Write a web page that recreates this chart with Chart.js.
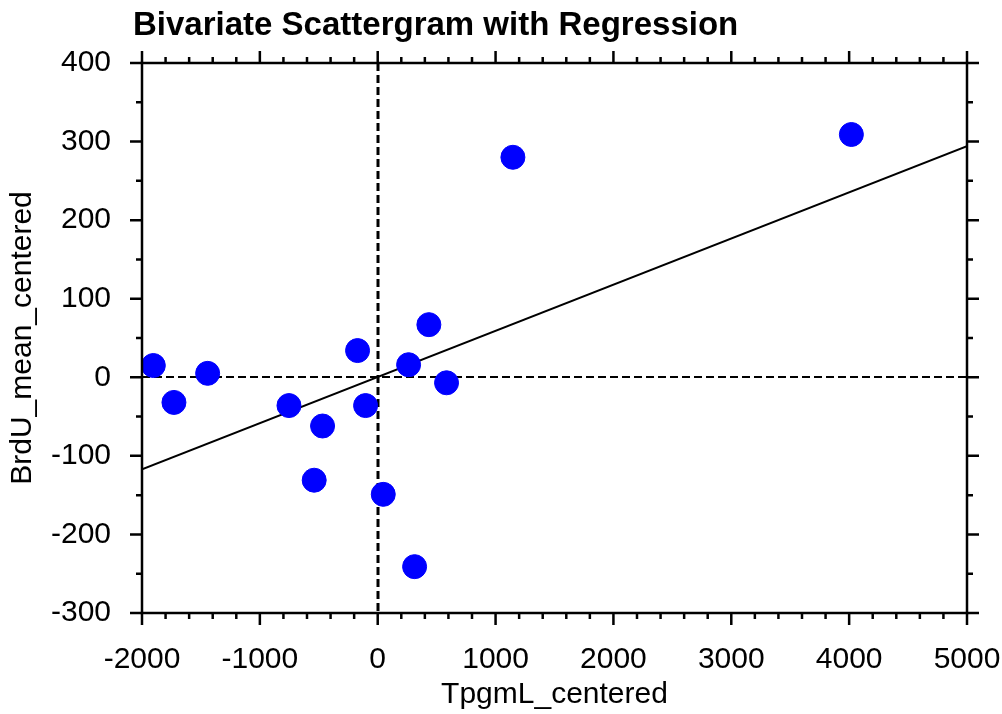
<!DOCTYPE html>
<html>
<head>
<meta charset="utf-8">
<title>Bivariate Scattergram with Regression</title>
<script src="https://cdn.jsdelivr.net/npm/chart.js@4"></script>
<style>
  html, body { margin: 0; padding: 0; background: #fff; overflow: hidden; }
  #scatter { display: block; }
</style>
</head>
<body>
<canvas id="scatter" width="1002" height="714"></canvas>
<script>
/* data */
const xValues = [-1904, -1729, -1443, -753, -539, -468, -171, -103, 47, 262, 313, 434, 584, 1147, 4019];
const yValues = [15, -32, 5, -36, -131, -62, 34, -36, -149, 16, -241, 67, -7, 280, 309];

// regression line, at the ends of the x axis
const fitX = [-2000, 5000];
const fitY = [-117, 294];

// axis ticks
const xTicks = [-2000, -1000, 0, 1000, 2000, 3000, 4000, 5000];
const yTicks = [-300, -200, -100, 0, 100, 200, 300, 400];

const FONT = "'Liberation Sans', Arial, sans-serif";

/* frame, outward tick marks and the dashed zero lines */
const frameTicks = {
  id: 'frameTicks',
  beforeDatasetsDraw(chart) {
    const { ctx, chartArea: a, scales: { x, y } } = chart;
    ctx.save();
    ctx.strokeStyle = '#000';
    ctx.setLineDash([8, 4]);
    // horizontal zero line
    ctx.lineWidth = 2;
    const y0 = Math.round(y.getPixelForValue(0));
    ctx.beginPath();
    ctx.moveTo(a.left, y0);
    ctx.lineTo(a.right, y0);
    ctx.stroke();
    // vertical zero line
    ctx.lineWidth = 3;
    const x0 = Math.round(x.getPixelForValue(0));
    ctx.beginPath();
    ctx.moveTo(x0, a.top);
    ctx.lineTo(x0, a.bottom);
    ctx.stroke();
    ctx.restore();
  },
  afterDatasetsDraw(chart) {
    const { ctx, chartArea: a, scales: { x, y } } = chart;
    ctx.save();
    ctx.strokeStyle = '#000';
    ctx.lineWidth = 2.5;
    ctx.strokeRect(a.left, a.top, a.right - a.left, a.bottom - a.top);

    ctx.beginPath();
    // x ticks: major every 1000, minor every 200
    for (let v = x.min; v <= x.max; v += 200) {
      const px = x.getPixelForValue(v);
      const len = v % 1000 === 0 ? 12 : 6;
      ctx.moveTo(px, a.bottom); ctx.lineTo(px, a.bottom + len);
      ctx.moveTo(px, a.top);    ctx.lineTo(px, a.top - len);
    }
    // y ticks: major every 100, minor every 50
    for (let v = y.min; v <= y.max; v += 50) {
      const py = y.getPixelForValue(v);
      const len = v % 100 === 0 ? 12 : 6;
      ctx.moveTo(a.left, py);  ctx.lineTo(a.left - len, py);
      ctx.moveTo(a.right, py); ctx.lineTo(a.right + len, py);
    }
    ctx.stroke();
    ctx.restore();
  },
  afterDraw(chart) {
    // title sits left-aligned, just left of the plot frame
    const { ctx, chartArea: a } = chart;
    ctx.save();
    ctx.fillStyle = '#000';
    ctx.font = 'bold 33px ' + FONT;
    ctx.textAlign = 'left';
    ctx.textBaseline = 'alphabetic';
    ctx.fillText('Bivariate Scattergram with Regression', a.left - 9, 35);
    ctx.restore();
  }
};

new Chart(document.getElementById('scatter'), {
  type: 'scatter',
  data: {
    datasets: [
      {
        label: 'BrdU_mean_centered',
        data: xValues.map((v, i) => ({ x: v, y: yValues[i] })),
        backgroundColor: '#0000ff',
        borderColor: '#0000ff',
        borderWidth: 1,
        pointRadius: 12,
        order: 0
      },
      {
        label: 'Regression',
        data: fitX.map((v, i) => ({ x: v, y: fitY[i] })),
        showLine: true,
        borderColor: '#000',
        borderWidth: 2,
        pointRadius: 0,
        fill: false,
        order: 1
      }
    ]
  },
  options: {
    responsive: false,
    animation: false,
    layout: { padding: { top: 63, right: 0, left: 0, bottom: 0 } },
    plugins: {
      legend: { display: false },
      tooltip: { enabled: false }
    },
    scales: {
      x: {
        type: 'linear',
        min: -2000,
        max: 5000,
        grid: { display: false },
        border: { display: false },
        afterBuildTicks: s => { s.ticks = xTicks.map(v => ({ value: v })); },
        afterFit: s => { s.height = 101; s.paddingLeft = 0; s.paddingRight = 35; },
        ticks: {
          color: '#000',
          font: { family: FONT, size: 30 },
          padding: 21,
          maxRotation: 0,
          autoSkip: false,
          callback: v => String(v)
        },
        title: {
          display: true,
          text: 'TpgmL_centered',
          color: '#000',
          font: { family: FONT, size: 30 },
          padding: { top: 0, bottom: 1 }
        }
      },
      y: {
        type: 'linear',
        min: -300,
        max: 400,
        grid: { display: false },
        border: { display: false },
        afterBuildTicks: s => { s.ticks = yTicks.map(v => ({ value: v })); },
        afterFit: s => { s.width = 142; s.paddingTop = 0; s.paddingBottom = 0; },
        ticks: {
          color: '#000',
          font: { family: FONT, size: 30 },
          padding: 23,
          autoSkip: false,
          callback: v => String(v)
        },
        title: {
          display: true,
          text: 'BrdU_mean_centered',
          color: '#000',
          font: { family: FONT, size: 30 },
          padding: { top: 5, bottom: 0 }
        }
      }
    }
  },
  plugins: [frameTicks]
});
</script>
</body>
</html>
